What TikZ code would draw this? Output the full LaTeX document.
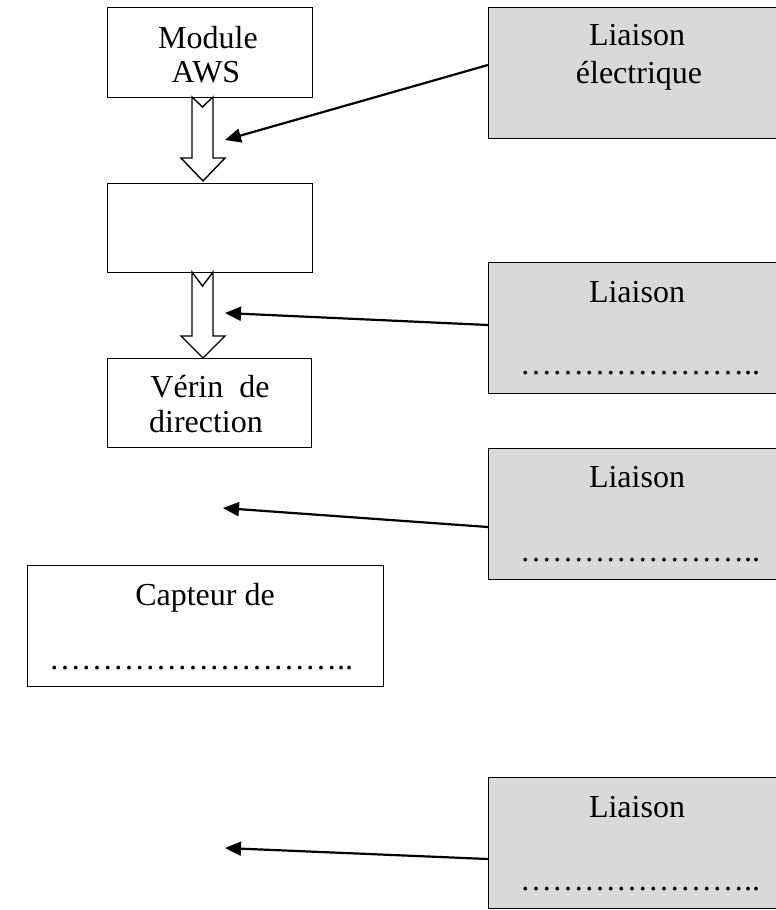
\documentclass[tikz,border=0pt]{standalone}
\usepackage{fontspec}
\setmainfont{Liberation Serif}
\usetikzlibrary{arrows.meta,calc}
\definecolor{boxgray}{HTML}{D9D9D9}
\newcommand{\elp}{\char"2026}
\begin{document}
\begin{tikzpicture}[x=1pt,y=-1pt,
  box/.style={draw=black,line width=1.4pt,fill=white,inner sep=0pt,anchor=north west},
  graybox/.style={box,fill=boxgray,minimum width=312pt,minimum height=131pt},
  txt/.style={font=\fontsize{32}{38}\selectfont,inner sep=0pt,anchor=base},
  conn/.style={line width=2.2pt,-{Triangle[length=16pt,width=14pt]}},
  blockarrow/.style={draw=black,line width=1.4pt,fill=white,line join=miter}
]
\useasboundingbox (0,0) rectangle (776,910);
\clip (0,0) rectangle (776,910);

% left column boxes
\node[box,minimum width=205pt,minimum height=90pt] (mod) at (107,7) {};
\node[box,minimum width=205pt,minimum height=89pt] (mid) at (107,183) {};
\node[box,minimum width=204pt,minimum height=89pt] (ver) at (107,358) {};
\node[box,minimum width=356pt,minimum height=121pt] (cap) at (27,565) {};

% right grey boxes
\node[graybox] (l1) at (488,7) {};
\node[graybox] (l2) at (488,262) {};
\node[graybox] (l3) at (488,448) {};
\node[graybox] (l4) at (488,777) {};

% texts
\node[txt] (tmod1) at (208,48) {Module};
\node[txt] (tmod2) at (206,82) {AWS};
\node[txt] (tver1) at (210,397) {Vérin\ \ de};
\node[txt] (tver2) at (206,432) {direction};
\node[txt] (tcap1) at (205,605) {Capteur de};
\node[txt] (tcap2) at (201,669) {\elp\elp\elp\elp\elp\elp\elp\elp\elp..};
\node[txt] (tl1a) at (637,45) {Liaison};
\node[txt] (tl1b) at (639,83) {électrique};
\node[txt] (tl2a) at (637,302) {Liaison};
\node[txt] (tl2b) at (640,374) {\elp\elp\elp\elp\elp\elp\elp..};
\node[txt] (tl3a) at (637,487) {Liaison};
\node[txt] (tl3b) at (640,561) {\elp\elp\elp\elp\elp\elp\elp..};
\node[txt] (tl4a) at (637,817) {Liaison};
\node[txt] (tl4b) at (640,890) {\elp\elp\elp\elp\elp\elp\elp..};

% block arrows
\draw[blockarrow] (192,97) -- (192,158) -- (181,158) -- (203,181) -- (225,158) -- (213,158) -- (213,97) -- (202.5,107) -- cycle;
\draw[blockarrow] (192,272) -- (192,336) -- (181,336) -- (203,358) -- (225,336) -- (213,336) -- (213,272) -- (202.5,286) -- cycle;

% connectors
\coordinate (t1) at (225,140);
\coordinate (t2) at (225,313);
\coordinate (t3) at (223,508);
\coordinate (t4) at (225,848);
\draw[conn] ($(l1.north west)+(0,58)$) -- (t1);
\draw[conn] ($(l2.north west)+(0,63)$) -- (t2);
\draw[conn] ($(l3.north west)+(0,79)$) -- (t3);
\draw[conn] ($(l4.north west)+(0,82)$) -- (t4);
\end{tikzpicture}
\end{document}
